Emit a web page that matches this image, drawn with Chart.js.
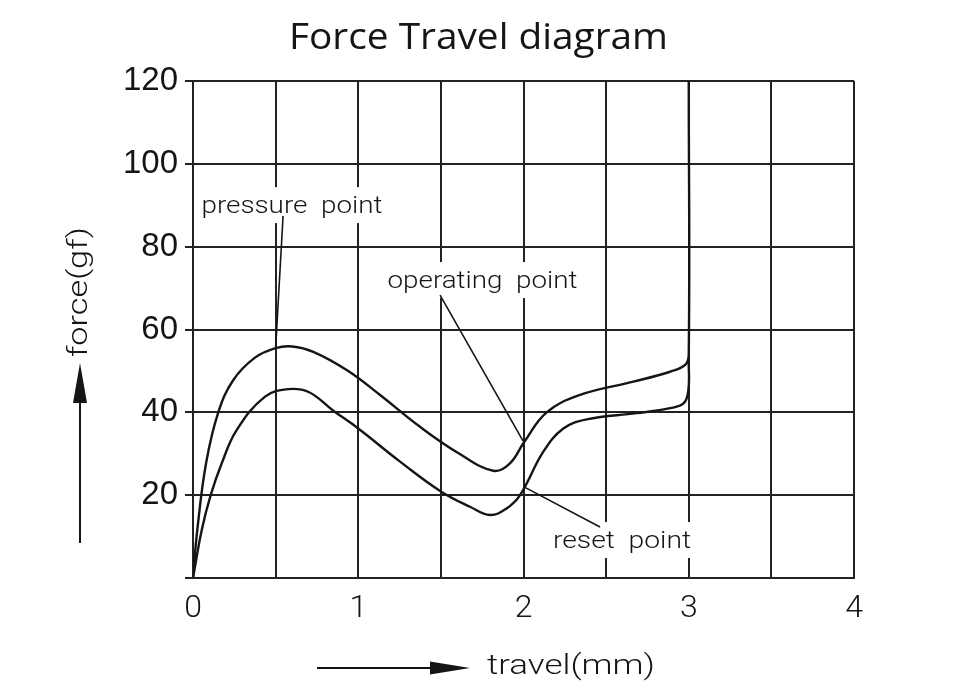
<!DOCTYPE html>
<html lang="en">
<head>
    <meta charset="UTF-8">
    <title>Force Travel diagram</title>
    <script src="https://cdn.jsdelivr.net/npm/chart.js@4.4.1/dist/chart.umd.min.js"></script>
    <style>
        body { margin: 0; background: #fff; }
        #wrap { width: 960px; height: 700px; }
    </style>
</head>
<body>
    <div id="wrap"><canvas id="forceChart" width="960" height="700"></canvas></div>
    <script>
        // travel (mm) / force (gf)
        const pressX = [0, 0.026, 0.079, 0.153, 0.244, 0.375, 0.5, 0.6, 0.728, 0.93, 1.132, 1.374, 1.6, 1.817, 1.918, 2.005, 2.14, 2.342, 2.665, 2.887, 2.98, 3.0, 3.0]
        const pressY = [0, 11.6, 27.7, 40, 47.8, 53.2, 55.5, 55.9, 54.6, 50.2, 44.2, 36.5, 30.3, 25.9, 27.7, 32.9, 40, 44.2, 47.4, 49.8, 51.5, 54, 120]

        const releaseX = [0, 0.053, 0.107, 0.174, 0.264, 0.436, 0.577, 0.7, 0.849, 1.0, 1.253, 1.5, 1.676, 1.797, 1.898, 1.979, 2.12, 2.241, 2.382, 2.685, 2.887, 2.97, 2.998, 3.0]
        const releaseY = [0, 11.6, 20, 27.7, 35.7, 43.8, 45.6, 44.9, 40.4, 36.1, 28.1, 20.9, 17.2, 15.2, 16.8, 20.0, 30.5, 36.1, 38.3, 39.8, 41.0, 42.2, 45.4, 52.4]

        const xTicks = [0, 1, 2, 3, 4]
        const yTicks = [20, 40, 60, 80, 100, 120]

        // callouts: text, anchor (center x, baseline y) and leader line, in data units
        const calloutText = ["pressure  point", "operating  point", "reset  point"]
        const calloutAt = [[0.599, 88.1], [1.752, 70.0], [2.596, 7.24]]
        const leaderFrom = [[0.545, 87.4], [1.495, 68.3], [2.003, 22.0]]
        const leaderTo = [[0.5, 55.5], [1.997, 33.1], [2.463, 12.3]]
        const calloutWidth = [181, 190, 138]

        const ink = '#151515'
        const thin = '300 24px Roboto, "DejaVu Sans", sans-serif'

        function fitText(ctx, txt, cx, y, w) {
            const m = ctx.measureText(txt).width
            ctx.save()
            ctx.translate(cx, y)
            ctx.scale(w / m, 1)
            ctx.textAlign = 'center'
            ctx.fillText(txt, 0, 0)
            ctx.restore()
        }

        const decor = {
            id: 'decor',
            beforeDatasetsDraw(chart) {
                const ctx = chart.ctx
                const xs = chart.scales.x, ys = chart.scales.y
                ctx.save()
                ctx.fillStyle = '#fff'
                calloutText.forEach((t, i) => {
                    const cx = xs.getPixelForValue(calloutAt[i][0])
                    const by = ys.getPixelForValue(calloutAt[i][1])
                    const w = calloutWidth[i] + 10
                    ctx.fillRect(cx - w / 2, by - 26, w, 36)
                })
                ctx.restore()
            },
            afterDatasetsDraw(chart) {
                const ctx = chart.ctx
                const xs = chart.scales.x, ys = chart.scales.y
                ctx.save()
                ctx.fillStyle = ink
                ctx.strokeStyle = ink

                // callouts
                ctx.font = thin
                ctx.textBaseline = 'alphabetic'
                calloutText.forEach((t, i) => {
                    fitText(ctx, t, xs.getPixelForValue(calloutAt[i][0]), ys.getPixelForValue(calloutAt[i][1]), calloutWidth[i])
                    ctx.lineWidth = 1.6
                    ctx.beginPath()
                    ctx.moveTo(xs.getPixelForValue(leaderFrom[i][0]), ys.getPixelForValue(leaderFrom[i][1]))
                    ctx.lineTo(xs.getPixelForValue(leaderTo[i][0]), ys.getPixelForValue(leaderTo[i][1]))
                    ctx.stroke()
                })

                // title
                ctx.font = '37px "Open Sans", sans-serif'
                fitText(ctx, 'Force Travel diagram', 478.5, 49, 379)

                // x axis title with arrow
                ctx.font = '300 28px Roboto, sans-serif'
                ctx.textBaseline = 'middle'
                fitText(ctx, 'travel(mm)', 571, 667, 168)
                ctx.lineWidth = 2
                ctx.beginPath()
                ctx.moveTo(317, 668)
                ctx.lineTo(435, 668)
                ctx.stroke()
                ctx.beginPath()
                ctx.moveTo(470, 668)
                ctx.lineTo(430, 661.5)
                ctx.lineTo(430, 674.5)
                ctx.closePath()
                ctx.fill()

                // y axis title with arrow
                ctx.save()
                ctx.translate(80, 292)
                ctx.rotate(-Math.PI / 2)
                fitText(ctx, 'force(gf)', 0, 0, 130)
                ctx.restore()
                ctx.beginPath()
                ctx.moveTo(80, 543)
                ctx.lineTo(80, 398)
                ctx.stroke()
                ctx.beginPath()
                ctx.moveTo(80, 363)
                ctx.lineTo(73, 403)
                ctx.lineTo(87, 403)
                ctx.closePath()
                ctx.fill()
                ctx.restore()
            }
        }

        const toPoints = (xs, ys) => xs.map((x, i) => ({ x: x, y: ys[i] }))

        const chart = new Chart(document.getElementById('forceChart').getContext('2d'), {
            type: 'line',
            data: {
                datasets: [{
                    data: toPoints(pressX, pressY),
                    borderColor: ink,
                    borderWidth: 2.4,
                    pointRadius: 0,
                    tension: 0.4,
                    fill: false
                }, {
                    data: toPoints(releaseX, releaseY),
                    borderColor: ink,
                    borderWidth: 2.4,
                    pointRadius: 0,
                    tension: 0.4,
                    fill: false
                }]
            },
            options: {
                responsive: false,
                animation: false,
                devicePixelRatio: 1,
                layout: { padding: { top: 81, right: 106, left: 0, bottom: 0 } },
                plugins: { legend: { display: false }, tooltip: { enabled: false }, title: { display: false } },
                scales: {
                    x: {
                        type: 'linear',
                        min: 0,
                        max: 4,
                        afterFit: (s) => { s.height = 122 },
                        ticks: {
                            stepSize: 0.5,
                            autoSkip: false,
                            maxRotation: 0,
                            padding: 12,
                            color: ink,
                            font: { family: 'Roboto', weight: 300, size: 32 },
                            callback: (v) => xTicks.includes(v) ? String(v) : ''
                        },
                        grid: { color: '#222', lineWidth: 2, drawTicks: false },
                        border: { color: '#222', width: 2 }
                    },
                    y: {
                        min: 0,
                        max: 120,
                        afterFit: (s) => { s.width = 193 },
                        ticks: {
                            stepSize: 20,
                            padding: 7,
                            color: ink,
                            font: { family: '"Liberation Sans", Arial, sans-serif', size: 33 },
                            callback: (v) => yTicks.includes(v) ? String(v) : ''
                        },
                        grid: { color: '#222', lineWidth: 2, drawTicks: true, tickLength: 8 },
                        border: { color: '#222', width: 2 }
                    }
                }
            },
            plugins: [decor]
        })
    </script>
</body>
</html>
